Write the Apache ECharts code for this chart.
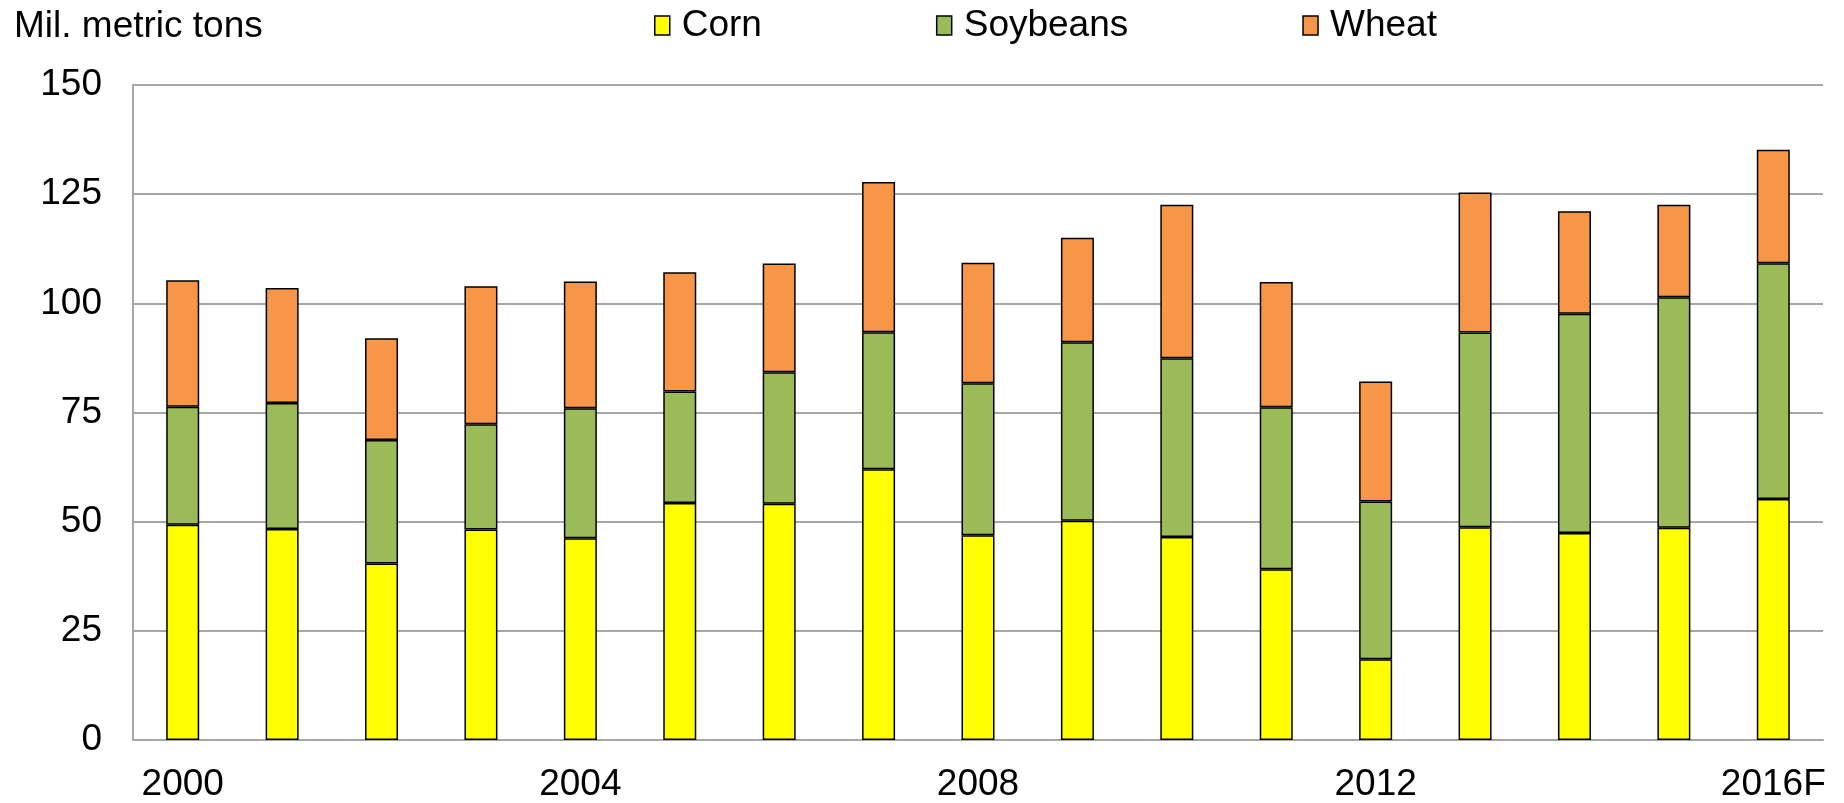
<!DOCTYPE html>
<html><head><meta charset="utf-8">
<script src="https://cdn.jsdelivr.net/npm/echarts@6/dist/echarts.min.js"></script>
<style>html,body{margin:0;padding:0;background:#fff}#c{width:1844px;height:803px}</style>
</head><body><div id="c"></div>
<script>
const categories = ['2000','2001','2002','2003','2004','2005','2006','2007','2008','2009','2010','2011','2012','2013','2014','2015','2016F'];
const corn     = [49.3, 48.3, 40.4, 48.2, 46.2, 54.3, 54.1, 62.0, 46.9, 50.2, 46.5, 39.1, 18.5, 48.7, 47.4, 48.6, 55.2];
const soybeans = [27.0, 28.9, 28.3, 24.1, 29.8, 25.5, 30.1, 31.4, 34.8, 40.9, 40.9, 37.1, 36.1, 44.6, 50.2, 52.8, 54.0];
const wheat    = [29.0, 26.3, 23.3, 31.6, 29.0, 27.3, 24.9, 34.4, 27.6, 23.9, 35.2, 28.7, 27.5, 32.1, 23.5, 21.2, 26.0];
const yTicks = [0, 25, 50, 75, 100, 125, 150];

const font = 'Liberation Sans, Arial, sans-serif';
const chart = echarts.init(document.getElementById('c'));
const mk = (name, data, color) => ({
  name, type: 'bar', stack: 'total', data, barWidth: 33,
  itemStyle: { color, borderColor: '#000', borderWidth: 1.5 },
  emphasis: { disabled: true }
});
chart.setOption({
  animation: false,
  title: { text: 'Mil. metric tons', left: 14, top: 8, padding: 0,
    textStyle: { fontFamily: font, fontSize: 37, fontWeight: 'normal', color: '#000' } },
  legend: {
    top: 7, left: 654, padding: 0, itemGap: 174, itemWidth: 15, itemHeight: 19,
    icon: 'rect',
    textStyle: { fontFamily: font, fontSize: 37, color: '#000', padding: [0,0,0,7] },
    itemStyle: { borderColor: '#000', borderWidth: 1.5 },
    data: ['Corn','Soybeans','Wheat']
  },
  grid: { left: 133, right: 21, top: 85, bottom: 62, containLabel: false },
  xAxis: {
    type: 'category', data: categories,
    axisLine: { lineStyle: { color: '#a6a6a6', width: 2 } },
    axisTick: { show: false },
    axisLabel: { interval: 3, fontFamily: font, fontSize: 37, color: '#000', margin: 26 }
  },
  yAxis: {
    type: 'value', min: yTicks[0], max: yTicks[yTicks.length-1], interval: 25,
    axisLine: { show: true, lineStyle: { color: '#a6a6a6', width: 2 } },
    axisTick: { show: false },
    splitLine: { lineStyle: { color: '#a6a6a6', width: 2 } },
    axisLabel: { fontFamily: font, fontSize: 37, color: '#000', margin: 31 }
  },
  series: [
    mk('Corn', corn, '#FFFF00'),
    mk('Soybeans', soybeans, '#9BBB59'),
    mk('Wheat', wheat, '#F79646')
  ]
});
</script></body></html>
